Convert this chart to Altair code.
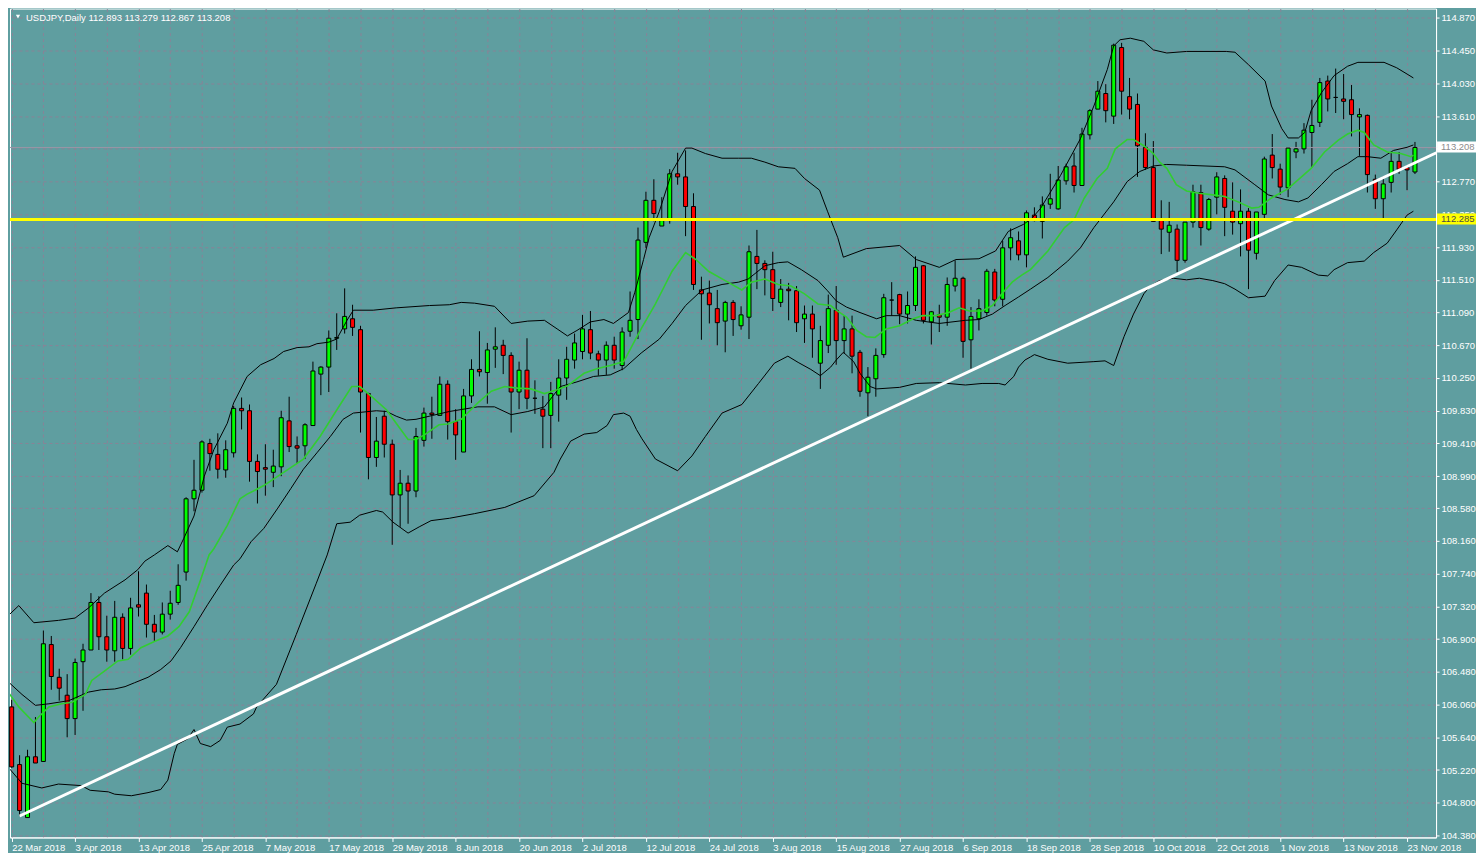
import json
import altair as alt
import pandas as pd

# ---------------- data ----------------
date_labels = ["22 Mar 2018", "3 Apr 2018", "13 Apr 2018", "25 Apr 2018", "7 May 2018",
               "17 May 2018", "29 May 2018", "8 Jun 2018", "20 Jun 2018", "2 Jul 2018",
               "12 Jul 2018", "24 Jul 2018", "3 Aug 2018", "15 Aug 2018", "27 Aug 2018",
               "6 Sep 2018", "18 Sep 2018", "28 Sep 2018", "10 Oct 2018", "22 Oct 2018",
               "1 Nov 2018", "13 Nov 2018", "23 Nov 2018"]

price_ticks = [114.87, 114.45, 114.03, 113.61, 113.19, 112.77, 112.35, 111.93, 111.51,
               111.09, 110.67, 110.25, 109.83, 109.41, 108.99, 108.58, 108.16, 107.74,
               107.32, 106.90, 106.48, 106.06, 105.64, 105.22, 104.80, 104.38]

opens = [106.03, 105.29, 104.61, 105.39, 105.33, 106.83, 106.41, 106.18, 105.88, 106.61,
         106.76, 107.37, 106.93, 106.75, 107.18, 106.78, 107.34, 107.49, 107.09, 106.99,
         107.22, 107.37, 107.76, 108.70, 108.81, 109.41, 109.27, 109.07, 109.29, 109.86,
         109.83, 109.18, 109.10, 109.04, 109.11, 109.70, 109.38, 109.38, 109.64, 110.30,
         110.39, 110.76, 110.88, 111.01, 110.87, 110.05, 109.23, 109.76, 109.40, 108.75,
         108.90, 108.80, 109.45, 109.80, 109.77, 110.17, 109.69, 109.30, 110.02, 110.36,
         110.32, 110.62, 110.67, 110.54, 110.07, 110.35, 109.99, 109.85, 109.77, 110.03,
         110.25, 110.48, 110.59, 110.87, 110.56, 110.48, 110.67, 110.41, 110.85, 111.00,
         111.99, 112.53, 112.20, 112.27, 112.87, 112.83, 112.45, 111.38, 111.34, 111.14,
         110.98, 111.22, 110.92, 111.03, 111.81, 111.72, 111.64, 111.22, 111.39, 111.37,
         111.01, 111.07, 110.44, 110.67, 111.12, 110.73, 110.88, 110.58, 110.06, 110.24,
         110.55, 111.25, 111.32, 111.07, 111.18, 111.69, 110.97, 111.06, 111.03, 111.43,
         111.53, 110.74, 111.01, 111.09, 111.61, 111.26, 111.92, 112.01, 111.83, 112.34,
         112.26, 112.48, 112.42, 112.78, 112.97, 112.72, 113.37, 113.70, 113.90, 113.61,
         114.49, 113.86, 113.76, 113.21, 112.95, 112.28, 112.12, 112.16, 111.76, 112.25,
         112.63, 112.16, 112.57, 112.81, 112.39, 112.23, 112.39, 111.85, 112.35, 113.11,
         112.93, 112.69, 113.15, 113.19, 113.40, 113.53, 114.06, 113.85, 113.83, 113.82,
         113.60, 113.62, 112.80, 112.55, 112.76, 113.03, 112.95, 112.893]
highs = [106.12, 105.41, 105.48, 105.90, 107.01, 106.94, 106.52, 106.45, 106.65, 106.84,
         107.49, 107.45, 107.20, 107.39, 107.23, 107.43, 107.77, 107.60, 107.21, 107.37,
         107.52, 107.86, 108.72, 109.20, 109.45, 109.47, 109.54, 109.45, 109.89, 110.00,
         109.91, 109.27, 109.40, 109.33, 109.83, 110.01, 109.50, 109.67, 110.46, 110.40,
         110.86, 111.08, 111.40, 111.19, 110.92, 110.06, 109.75, 109.83, 109.46, 109.07,
         109.00, 109.61, 109.87, 110.01, 110.27, 110.22, 109.85, 110.11, 110.49, 110.85,
         110.70, 110.90, 110.74, 110.58, 110.46, 110.76, 110.22, 110.02, 110.20, 110.49,
         110.65, 110.82, 111.06, 111.11, 110.60, 110.72, 110.78, 110.90, 111.36, 112.18,
         112.64, 112.80, 112.57, 112.93, 113.14, 113.17, 112.62, 111.55, 111.50, 111.38,
         111.24, 111.25, 111.17, 111.95, 112.15, 111.76, 111.87, 111.52, 111.47, 111.43,
         111.18, 111.18, 110.92, 111.32, 111.43, 111.05, 111.05, 110.61, 110.39, 110.63,
         111.33, 111.48, 111.33, 111.36, 111.81, 111.70, 111.11, 111.19, 111.54, 111.76,
         111.55, 111.16, 111.26, 111.65, 111.65, 112.01, 112.17, 112.13, 112.40, 112.44,
         112.58, 112.87, 112.97, 113.00, 113.14, 113.46, 113.70, 114.06, 114.02, 114.54,
         114.55, 114.10, 113.90, 113.39, 113.29, 112.53, 112.51, 112.22, 112.25, 112.73,
         112.73, 112.56, 112.89, 112.85, 112.76, 112.67, 112.43, 112.38, 113.09, 113.38,
         113.00, 113.21, 113.28, 113.52, 113.82, 114.10, 114.13, 114.22, 114.15, 114.01,
         113.71, 113.63, 112.86, 112.84, 113.15, 113.15, 112.98, 113.279]
lows = [105.25, 104.63, 104.61, 105.31, 105.33, 106.25, 106.11, 105.64, 105.67, 105.98,
        106.76, 106.76, 106.61, 106.61, 106.64, 106.70, 107.19, 106.92, 106.87, 106.96,
        107.15, 107.34, 107.65, 108.54, 108.78, 109.06, 108.96, 108.97, 109.23, 109.59,
        108.92, 108.64, 108.74, 108.85, 108.99, 109.30, 109.15, 109.21, 109.64, 110.03,
        110.07, 110.61, 110.82, 110.79, 109.55, 108.95, 109.11, 109.23, 108.11, 108.34,
        108.38, 108.72, 109.37, 109.47, 109.77, 109.46, 109.20, 109.30, 109.93, 110.27,
        109.92, 110.38, 110.30, 109.55, 109.85, 109.85, 109.79, 109.35, 109.35, 109.69,
        109.97, 110.37, 110.49, 110.49, 110.28, 110.29, 110.37, 110.35, 110.78, 110.75,
        111.92, 112.26, 112.20, 112.23, 112.73, 112.07, 111.38, 110.74, 110.95, 110.67,
        110.58, 110.79, 110.87, 110.75, 111.39, 111.31, 111.11, 111.16, 110.99, 110.84,
        110.70, 110.51, 110.11, 110.57, 110.42, 110.56, 110.31, 110.01, 109.76, 110.01,
        110.51, 111.05, 110.94, 110.95, 111.11, 110.95, 110.68, 110.84, 110.92, 111.36,
        110.51, 110.37, 110.86, 111.05, 111.17, 111.17, 111.76, 111.76, 111.67, 112.26,
        112.04, 112.42, 112.41, 112.73, 112.63, 112.72, 113.31, 113.70, 113.53, 113.51,
        113.63, 113.57, 112.83, 112.92, 112.26, 111.84, 111.87, 111.61, 111.73, 112.18,
        111.95, 112.14, 112.35, 112.07, 112.09, 111.81, 111.39, 111.77, 112.28, 112.81,
        112.60, 112.57, 113.07, 113.13, 112.95, 113.47, 113.67, 113.65, 113.57, 113.35,
        113.10, 112.63, 112.42, 112.29, 112.63, 112.87, 112.66, 112.867]
closes = [105.26, 104.70, 105.39, 105.31, 106.84, 106.42, 106.27, 105.88, 106.60, 106.76,
          107.37, 106.93, 106.76, 107.18, 106.78, 107.30, 107.31, 107.09, 106.99, 107.22,
          107.36, 107.59, 108.70, 108.81, 109.43, 109.28, 109.08, 109.33, 109.86, 109.83,
          109.18, 109.05, 109.08, 109.12, 109.74, 109.37, 109.35, 109.65, 110.34, 110.39,
          110.76, 110.77, 111.04, 110.90, 110.07, 109.23, 109.44, 109.40, 108.75, 108.90,
          108.80, 109.50, 109.80, 109.78, 110.17, 109.69, 109.52, 110.02, 110.36, 110.33,
          110.61, 110.65, 110.54, 110.07, 110.35, 109.99, 109.99, 109.76, 110.05, 110.25,
          110.49, 110.70, 110.88, 110.57, 110.48, 110.67, 110.48, 110.84, 110.99, 112.02,
          112.53, 112.36, 112.27, 112.87, 112.83, 112.45, 111.45, 111.33, 111.19, 110.96,
          111.22, 111.00, 111.06, 111.87, 111.72, 111.64, 111.27, 111.39, 111.37, 110.96,
          111.07, 110.88, 110.73, 111.14, 110.73, 110.88, 110.53, 110.08, 110.26, 110.54,
          111.28, 111.25, 111.07, 111.18, 111.67, 110.99, 111.10, 111.03, 111.45, 111.53,
          110.72, 111.04, 111.14, 111.62, 111.25, 111.92, 112.05, 111.83, 112.37, 112.27,
          112.47, 112.55, 112.79, 112.96, 112.72, 113.38, 113.68, 113.93, 113.68, 114.52,
          113.93, 113.70, 113.23, 112.95, 112.26, 112.16, 112.21, 111.76, 112.25, 112.64,
          112.18, 112.54, 112.83, 112.44, 112.25, 112.39, 111.89, 112.38, 113.06, 112.95,
          112.70, 113.20, 113.19, 113.43, 113.49, 114.04, 113.83, 113.85, 113.80, 113.63,
          113.63, 112.86, 112.55, 112.74, 113.03, 112.93, 112.92, 113.208]

# Bollinger upper band (bar index, price)
upper_bar = [-0.34, 0.9, 2.8, 5.9, 8, 9.7, 11.7, 14.3, 15.9, 16.8, 18, 19.7, 20.9, 21.7, 23,
             24.3, 25.5, 27.2, 28, 29.7, 31.4, 33.1, 34.3, 36, 37.5, 38.5, 40, 41, 42.3, 43.1,
             45.6, 48.5, 52.7, 55.2, 56.7, 58.4, 60.9, 63, 65.1, 67.2, 68.8, 70.1, 71.3, 73,
             74.7, 75.9, 77.8, 78.6, 79.7, 80.4, 81.7, 83.3, 85, 85.8, 87.5, 89.6, 91.7, 93.3,
             95, 96.7, 98.8, 100, 101.9, 102.9, 103.7, 104.2, 104.9, 107.8, 112, 114.1, 117,
             119.1, 122, 124.1, 125.7, 127.6, 128.7, 129.8, 132.3, 134.8, 136.5, 138.2, 139,
             139.8, 141.1, 142.8, 144, 145.7, 148.2, 153.2, 154.3, 156, 158.1, 158.9, 160.2,
             161, 162.3, 163.1, 163.9, 165.2, 166.8, 168.5, 169.8, 173.1, 174.7, 176, 176.8]
upper_val = [107.21, 107.33, 107.11, 107.14, 107.17, 107.30, 107.49, 107.66, 107.79, 107.90,
             107.98, 108.10, 108.02, 108.19, 108.48, 108.99, 109.33, 109.67, 109.93, 110.27,
             110.42, 110.50, 110.59, 110.64, 110.65, 110.69, 110.71, 110.75, 110.99, 111.12,
             111.12, 111.15, 111.18, 111.19, 111.22, 111.21, 111.17, 110.95, 110.98, 110.99,
             110.88, 110.79, 110.86, 110.97, 111.00, 110.95, 111.09, 111.35, 111.77, 112.05,
             112.39, 112.90, 113.20, 113.20, 113.13, 113.07, 113.07, 113.07, 113.02, 112.96,
             112.94, 112.81, 112.66, 112.39, 112.18, 112.05, 111.80, 111.91, 111.95, 111.77,
             111.67, 111.77, 111.78, 111.88, 112.13, 112.22, 112.30, 112.43, 112.85, 113.32,
             113.74, 114.21, 114.51, 114.59, 114.61, 114.57, 114.46, 114.42, 114.44, 114.44,
             114.43, 114.27, 114.06, 113.74, 113.45, 113.33, 113.33, 113.40, 113.68, 113.91,
             114.13, 114.25, 114.30, 114.30, 114.23, 114.15, 114.10]

# Bollinger middle line
middle_bar = [-0.3, 1.3, 3, 4.7, 7.2, 9.7, 11.3, 13, 14.3, 15.5, 17.2, 18.8, 20.1, 21.3, 23,
              24.7, 26.3, 28, 28.8, 30.2, 31.8, 33.5, 35.2, 36.8, 38.5, 40.2, 41.8, 43.1, 46,
              47.3, 48.5, 49.8, 51, 53.1, 55.2, 58.8, 60.9, 63, 65.1, 67.2, 69.2, 71.3, 73.4,
              75.5, 77.2, 79.4, 81.7, 83.3, 85, 87.1, 89.6, 91.7, 92.9, 95, 96.7, 97.9, 99.6,
              101.7, 102.9, 104, 105.3, 107, 109.1, 110.3, 112, 114.1, 117, 120.3, 122, 123.7,
              125.3, 127, 128.5, 130.7, 133.2, 134.8, 136.5, 139, 140.7, 142.3, 144, 145.7,
              148.2, 153, 154.3, 156.8, 158.5, 160.6, 162.3, 163.5, 165.2, 166.8, 168.5, 169.8,
              171, 172.7, 174.3, 176, 176.8]
middle_val = [106.34, 106.19, 106.05, 106.07, 106.11, 106.22, 106.25, 106.26, 106.29, 106.34,
              106.41, 106.51, 106.62, 106.79, 107.06, 107.34, 107.59, 107.85, 107.93, 108.15,
              108.32, 108.57, 108.83, 109.08, 109.29, 109.50, 109.72, 109.80, 109.83, 109.82,
              109.76, 109.71, 109.72, 109.77, 109.82, 109.88, 109.88, 109.78, 109.82, 109.88,
              110.14, 110.20, 110.27, 110.29, 110.37, 110.57, 110.75, 110.95, 111.18, 111.38,
              111.45, 111.48, 111.52, 111.69, 111.73, 111.74, 111.64, 111.50, 111.37, 111.24,
              111.16, 111.09, 111.01, 111.05, 111.05, 110.99, 110.95, 110.99, 111.00, 111.07,
              111.18, 111.29, 111.39, 111.54, 111.75, 111.92, 112.18, 112.51, 112.77, 112.90,
              112.97, 112.99, 112.98, 112.96, 112.92, 112.73, 112.60, 112.54, 112.51, 112.56,
              112.73, 112.90, 113.00, 113.09, 113.09, 113.07, 113.17, 113.21, 113.24]

# Bollinger lower band
lower_bar = [-0.3, 1.3, 3.8, 5.9, 8.8, 9.9, 12.2, 13, 15.1, 17.2, 18.8, 19.7, 20.5, 20.9, 22.2,
             23, 23.8, 25.1, 26.3, 27.2, 28.8, 30.5, 30.9, 33.4, 35.9, 38.4, 39.8, 41, 42.7,
             43.9, 46, 46.8, 48.1, 50, 51.4, 52.9, 55.2, 58.4, 62.2, 65.9, 68.4, 69.2, 70.5,
             72.2, 73.8, 75.1, 75.9, 77.2, 78, 78.8, 79.5, 81.2, 84, 85.8, 87.5, 89.6, 92.1,
             94.2, 96.2, 97.9, 99.2, 100.8, 102, 103.3, 104, 104.9, 106.2, 107, 108.3, 109.1,
             112, 114.1, 117, 120.3, 122.4, 124.5, 125.3, 126.4, 127, 127.8, 128.5, 129, 130.7,
             133.2, 136.5, 137.9, 139, 140.3, 141.5, 142.8, 143.6, 144.8, 146.5, 148.2, 149.8,
             151.5, 153, 154.3, 156, 158.1, 159.3, 161, 162.7, 164.8, 166, 166.8, 168.5, 170.6,
             171.8, 173.5, 174.7, 176, 176.8]
lower_val = [105.24, 105.05, 104.99, 105.04, 105.02, 104.96, 104.94, 104.91, 104.89, 104.93,
             104.97, 105.09, 105.43, 105.55, 105.62, 105.74, 105.56, 105.52, 105.60, 105.77,
             105.81, 105.94, 106.03, 106.32, 106.96, 107.61, 107.98, 108.38, 108.40, 108.49,
             108.55, 108.53, 108.40, 108.26, 108.34, 108.42, 108.45, 108.51, 108.59, 108.74,
             109.04, 109.21, 109.44, 109.53, 109.55, 109.64, 109.78, 109.80, 109.76, 109.59,
             109.47, 109.21, 109.06, 109.25, 109.50, 109.80, 109.91, 110.18, 110.44, 110.53,
             110.45, 110.36, 110.28, 110.39, 110.48, 110.58, 110.46, 110.31, 110.14, 110.11,
             110.13, 110.18, 110.19, 110.16, 110.18, 110.18, 110.16, 110.27, 110.39, 110.48,
             110.52, 110.55, 110.49, 110.44, 110.46, 110.47, 110.41, 110.78, 111.07, 111.33,
             111.43, 111.50, 111.53, 111.51, 111.53, 111.50, 111.46, 111.39, 111.28, 111.30,
             111.50, 111.70, 111.67, 111.57, 111.56, 111.64, 111.73, 111.75, 111.86, 111.98,
             112.15, 112.34, 112.39]

# Green moving average
green_bar = [-0.3, 0.9, 2.8, 3.4, 4.7, 6.3, 7.6, 9.3, 10.1, 11.7, 13.4, 14.7, 16.3, 18, 19.7,
             21.1, 22.4, 23.8, 24.9, 25.5, 27.2, 28.8, 29.7, 30.5, 31.8, 34.3, 36.8, 38.9, 41,
             42.9, 43.9, 45.2, 47.3, 48.5, 50, 51, 52.2, 53.9, 55, 56.7, 58.8, 60.5, 62.2, 63.8,
             65.5, 67.2, 68.8, 70.1, 72.2, 73.8, 75.5, 77.2, 78.6, 79.5, 81.2, 83.3, 85, 86.3,
             87.9, 90, 92.1, 93.3, 95, 96.7, 98.3, 100, 101.7, 103.3, 104, 105.3, 106.6, 107.8,
             108.9, 110.3, 112, 113.7, 114.9, 116.6, 118.2, 119.5, 120.8, 122.4, 123.7, 124.9,
             126.2, 127.4, 128.5, 130.7, 132.8, 134, 135.3, 136.9, 138.2, 139.2, 140.7, 141.5,
             142.8, 144, 144.8, 145.7, 146.9, 148.2, 149.8, 151.5, 153, 154.7, 156.4, 157.3,
             158.9, 161, 163.9, 165.6, 167.3, 168.5, 169.8, 170.6, 171.8, 173.5, 175.2, 176.5,
             176.8]
green_val = [106.20, 106.03, 105.83, 105.90, 106.03, 106.07, 106.09, 106.19, 106.37, 106.49,
             106.62, 106.64, 106.79, 106.87, 106.94, 107.06, 107.25, 107.65, 107.98, 108.06,
             108.36, 108.70, 108.76, 108.80, 108.87, 109.04, 109.21, 109.50, 109.84, 110.14,
             110.14, 110.03, 109.84, 109.67, 109.46, 109.46, 109.53, 109.65, 109.66, 109.72,
             109.93, 110.08, 110.14, 110.12, 110.11, 110.05, 110.10, 110.15, 110.31, 110.37,
             110.41, 110.46, 110.73, 110.90, 111.20, 111.62, 111.86, 111.77, 111.62, 111.50,
             111.38, 111.48, 111.52, 111.45, 111.43, 111.33, 111.20, 111.18, 111.12, 111.03,
             110.86, 110.78, 110.77, 110.88, 110.92, 111.01, 111.05, 111.05, 111.09, 111.15,
             111.11, 111.11, 111.18, 111.33, 111.48, 111.57, 111.64, 111.88, 112.18, 112.28,
             112.56, 112.81, 112.94, 113.19, 113.31, 113.31, 113.23, 113.13, 113.02, 112.94,
             112.73, 112.65, 112.62, 112.60, 112.58, 112.51, 112.43, 112.44, 112.56, 112.68,
             112.94, 113.15, 113.30, 113.38, 113.43, 113.40, 113.24, 113.15, 113.13, 113.09,
             113.11]

trend_bar = [1.0, 179.7]
trend_val = [104.63, 113.14]

level_price = 112.285
bid_price = 113.208
title_text = "USDJPY,Daily  112.893 113.279 112.867 113.208"

# ---------------- chart ----------------
W, H = 1428, 830
BG = "#5F9EA0"
GRID = "#8A8397"
FONT = "Liberation Sans"
FS = 9.5

candles = pd.DataFrame({"i": list(range(len(opens))), "o": opens, "h": highs,
                        "l": lows, "c": closes})

xscale = alt.Scale(domain=[-0.21, 179.66], nice=False, zero=False, padding=0)
yscale = alt.Scale(domain=[104.355, 114.99], nice=False, zero=False, padding=0)

label_expr = ("datum.value % 8 === 0 ? " + json.dumps(date_labels) +
              "[round(datum.value / 8)] : ''")
tick_cond = {"condition": {"test": "datum.value % 8 === 0", "value": "white"},
             "value": "transparent"}

x_axis = alt.Axis(values=list(range(0, 177, 4)), grid=True, gridColor=GRID, gridDash=[3, 3],
                  gridWidth=1, domainColor="white", tickColor=tick_cond, tickSize=4,
                  labelExpr=label_expr, labelAlign="left", labelPadding=1,
                  labelColor="white", labelFont=FONT, labelFontSize=FS,
                  labelOverlap=False, labelFlush=False, title=None)
y_axis = alt.Axis(orient="right", values=price_ticks, format=".3f", grid=True,
                  gridColor=GRID, gridDash=[3, 3], gridWidth=1, domainColor="white",
                  tickColor="white", tickSize=3, labelColor="white", labelFont=FONT,
                  labelFontSize=FS, labelPadding=2, labelOverlap=False, labelFlush=False,
                  title=None)


def X(field):
    return alt.X(field, scale=xscale, axis=x_axis)


def Y(field):
    return alt.Y(field, scale=yscale, axis=y_axis)


wicks = alt.Chart(candles).mark_rule(color="black", strokeWidth=1).encode(
    x=X("i:Q"), y=Y("l:Q"), y2="h:Q")

bid_df = pd.DataFrame({"p": [bid_price], "t": [f"{bid_price:.3f}"]})
lvl_df = pd.DataFrame({"p": [level_price], "t": [f"{level_price:.3f}"]})

bid_line = alt.Chart(bid_df).mark_rule(color="#9A96A6", strokeWidth=1).encode(y=Y("p:Q"))

bodies = alt.Chart(candles).mark_bar(size=4, stroke="black", strokeWidth=1).encode(
    x=X("i:Q"), y=Y("o:Q"), y2="c:Q",
    fill=alt.condition("datum.c >= datum.o", alt.value("#00FF00"), alt.value("#FF0000")),
)


def line_layer(bars, vals, color, width):
    df = pd.DataFrame({"i": bars, "v": vals})
    return alt.Chart(df).mark_line(color=color, strokeWidth=width, clip=True).encode(
        x=X("i:Q"), y=Y("v:Q"), order="i:Q")


upper = line_layer(upper_bar, upper_val, "black", 1)
middle = line_layer(middle_bar, middle_val, "black", 1)
lower = line_layer(lower_bar, lower_val, "black", 1)
green = line_layer(green_bar, green_val, "#32CD32", 1.6)
trend = line_layer(trend_bar, trend_val, "white", 3)

level = alt.Chart(lvl_df).mark_rule(color="#FFFF00", strokeWidth=3).encode(y=Y("p:Q"))


def price_box(df, fill, text_color):
    box = alt.Chart(df).mark_rect(fill=fill, yOffset=-6, y2Offset=5).encode(
        x=alt.value(W + 1), x2=alt.value(W + 40), y=Y("p:Q"), y2="p:Q")
    txt = alt.Chart(df).mark_text(align="left", baseline="middle", font=FONT, fontSize=FS,
                                  color=text_color).encode(
        x=alt.value(W + 5), y=Y("p:Q"), text="t:N")
    return box + txt


bid_box = price_box(bid_df, "white", "#8C8C8C")
lvl_box = price_box(lvl_df, "#FFFF00", "#4A4A4A")

title_df = pd.DataFrame({"t": [title_text]})
title = alt.Chart(title_df).mark_text(align="left", baseline="middle", font=FONT, fontSize=FS,
                                      color="white").encode(
    x=alt.value(16), y=alt.value(9), text="t:N")
tri = alt.Chart(title_df).mark_point(shape="triangle-down", filled=True, color="white",
                                     size=18, opacity=1).encode(
    x=alt.value(8), y=alt.value(8))

chart = alt.layer(
    wicks, bid_line, bodies, upper, middle, lower, green, trend, level,
    bid_box, lvl_box, title, tri,
).properties(
    width=W, height=H, background=BG, padding=0,
).configure(
    background=BG,
).configure_view(
    fill=BG, stroke="white", strokeWidth=1,
)

chart.save("out.html", embed_options={"renderer": "svg", "actions": False})
